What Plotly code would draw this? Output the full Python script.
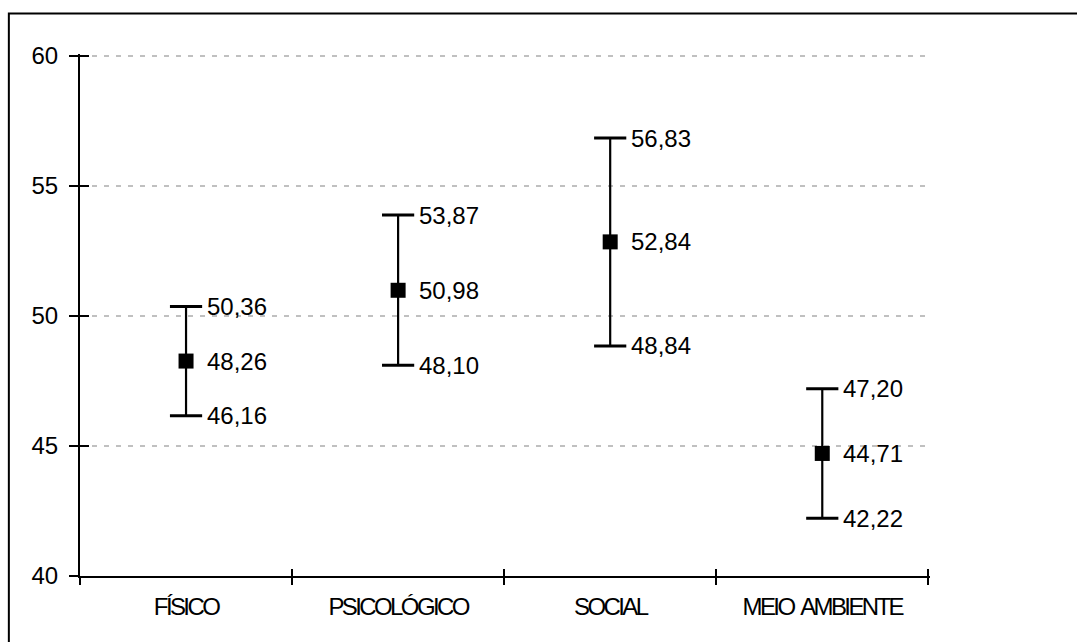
import plotly.graph_objects as go

# Domain means with their confidence limits
categories = ["FÍSICO", "PSICOLÓGICO", "SOCIAL", "MEIO AMBIENTE"]
means = [48.26, 50.98, 52.84, 44.71]
upper = [50.36, 53.87, 56.83, 47.20]
lower = [46.16, 48.10, 48.84, 42.22]

y_ticks = [40, 45, 50, 55, 60]

FONT = "Liberation Sans, Arial, sans-serif"
FS = 24

# small overshoot so the end gridline / ticks are not clipped away
Y_RANGE = [40, 60.06]
X_RANGE = [-0.5, 3.508]


def fmt(v):
    return f"{v:.2f}".replace(".", ",")


def tight(label):
    # condensed letters, but keep the normal word gap
    return " ".join(f'<span style="letter-spacing:-2.6px">{w}</span>'
                    for w in label.split(" "))


fig = go.Figure()

# vertical whiskers + mean markers
fig.add_trace(go.Scatter(
    x=categories, y=means, mode="markers",
    marker=dict(symbol="square", size=15, color="black"),
    error_y=dict(type="data", symmetric=False,
                 array=[u - m for u, m in zip(upper, means)],
                 arrayminus=[m - l for m, l in zip(means, lower)],
                 color="black", thickness=2.2, width=0),
    cliponaxis=False, showlegend=False, hoverinfo="skip",
))

# caps at the upper and lower limits (drawn on the overlay axes)
fig.add_trace(go.Scatter(
    x=categories + categories, y=upper + lower, mode="markers",
    marker=dict(symbol="line-ew", size=23, line=dict(color="black", width=3)),
    xaxis="x2", yaxis="y2",
    cliponaxis=False, showlegend=False, hoverinfo="skip",
))

# value labels to the right of each mark
for c, m, u, l in zip(categories, means, upper, lower):
    for v in (u, m, l):
        fig.add_annotation(
            x=c, y=v, text=fmt(v), showarrow=False,
            xanchor="left", yanchor="middle", xshift=19,
            font=dict(family=FONT, size=FS, color="black"),
        )

tick_text = [tight(c) for c in categories]

common_x = dict(type="category", categoryorder="array", categoryarray=categories,
                range=X_RANGE)
common_y = dict(range=Y_RANGE)

fig.update_layout(
    width=1077, height=642,
    margin=dict(l=80, r=147.3, t=54.44, b=66),
    paper_bgcolor="white", plot_bgcolor="white",
    font=dict(family=FONT, size=FS, color="black"),
    xaxis=dict(**common_x, tickson="boundaries", ticks="outside", ticklen=7,
               tickwidth=2, tickcolor="black", showline=True, linecolor="black",
               linewidth=2, showgrid=False, tickvals=categories, ticktext=tick_text,
               ticklabelstandoff=8, tickfont=dict(family=FONT, size=FS)),
    yaxis=dict(**common_y, tickvals=y_ticks, ticks="outside", ticklen=9,
               tickwidth=2, tickcolor="black", showline=True, linecolor="black",
               linewidth=2, showgrid=True, gridcolor="#c0c0c0", gridwidth=2.3,
               griddash="5px,7px", zeroline=False, ticklabelstandoff=6,
               tickfont=dict(family=FONT, size=FS)),
    xaxis2=dict(**common_x, overlaying="x", anchor="y2", tickson="boundaries",
                ticks="inside", ticklen=7, tickwidth=2, tickcolor="black",
                showticklabels=False, showgrid=False, showline=False),
    yaxis2=dict(**common_y, overlaying="y", anchor="x2", side="left",
                tickvals=y_ticks, ticks="inside", ticklen=9, tickwidth=2,
                tickcolor="black", showticklabels=False, showgrid=False,
                showline=False, zeroline=False),
    shapes=[dict(type="rect", xref="paper", yref="paper",
                 x0=-0.0837, y0=-0.25, x1=1.25, y1=(576 - 14) / (576 - 54.44),
                 line=dict(color="black", width=2), layer="above")],
)

fig.write_html("out.html")
